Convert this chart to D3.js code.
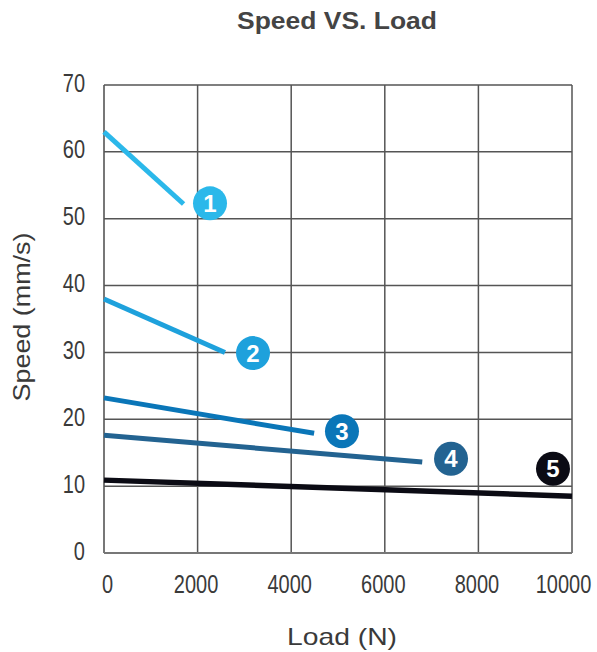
<!DOCTYPE html>
<html>
<head>
<meta charset="utf-8">
<script src="https://cdn.jsdelivr.net/npm/d3@7"></script>
<style>
  body { margin: 0; background: #fff; }
  .tick text { font-family: "Liberation Sans", Arial, sans-serif; font-size: 20px; fill: #3a3a3a; }
  .axis path { display: none; }
</style>
</head>
<body>
<svg id="chart"></svg>
<script>
// data
const xTicks = [0, 2000, 4000, 6000, 8000, 10000];
const yTicks = [0, 10, 20, 30, 40, 50, 60, 70];
const seriesIds = ["1", "2", "3", "4", "5"];
const seriesColors = ["#2bb8ea", "#1ea1dc", "#0a76b8", "#236391", "#0b0b14"];
const seriesLoads = [[0, 1700], [0, 2585], [0, 4490], [0, 6800], [0, 10000]];
const seriesSpeeds = [[63.0, 52.2], [38.0, 30.0], [23.2, 17.9], [17.6, 13.6], [10.9, 8.5]];
const markerLoads = [2265, 3184, 5085, 7415, 9594];
const markerSpeeds = [52.3, 29.9, 18.2, 14.1, 12.6];

const W = 597, H = 652;
const margin = { top: 85, right: 25, bottom: 99, left: 104 },
      width = W - margin.left - margin.right,
      height = H - margin.top - margin.bottom;

const svgRoot = d3.select("#chart").attr("width", W).attr("height", H);
const svg = svgRoot.append("g")
    .attr("transform", `translate(${margin.left}, ${margin.top})`);

const x = d3.scaleLinear().domain([0, 10000]).range([0, width]);
const y = d3.scaleLinear().domain([0, 70]).range([height, 0]);

// grid
const grid = svg.append("g").attr("class", "grid");
grid.selectAll(".vline").data(xTicks).enter().append("line")
    .attr("x1", d => x(d)).attr("x2", d => x(d))
    .attr("y1", 0).attr("y2", height)
    .attr("stroke", d => d === 0 ? "#777" : "#555")
    .attr("stroke-width", d => d === 0 ? 2 : 1.5);
grid.selectAll(".hline").data(yTicks).enter().append("line")
    .attr("x1", 0).attr("x2", width)
    .attr("y1", d => y(d)).attr("y2", d => y(d))
    .attr("stroke", d => d === 0 ? "#777" : "#555")
    .attr("stroke-width", d => d === 0 ? 2 : 1.5);

// axes (labels only); digits are stretched tall like the reference
const stretch = 1.3;
const xAxis = svg.append("g").attr("class", "axis")
    .attr("transform", `translate(0, ${height})`)
    .call(d3.axisBottom(x).tickValues(xTicks).tickSize(0).tickFormat(d3.format("d")));
xAxis.selectAll(".tick text")
    .attr("y", 0).attr("dy", 0)
    .attr("transform", d => `translate(${d === 10000 ? -9 : (d === 0 ? 3 : -2)}, 40) scale(1, ${stretch})`);

const yAxis = svg.append("g").attr("class", "axis")
    .call(d3.axisLeft(y).tickValues(yTicks).tickSize(0));
yAxis.selectAll(".tick text")
    .attr("x", 0).attr("dy", 0)
    .attr("transform", `translate(-19, 6) scale(1, ${stretch})`);

// series lines
const line = d3.line().x(d => x(d[0])).y(d => y(d[1]));
seriesIds.forEach((id, i) => {
    const pts = seriesLoads[i].map((l, j) => [l, seriesSpeeds[i][j]]);
    svg.append("path")
        .datum(pts)
        .attr("d", line)
        .attr("fill", "none")
        .attr("stroke", seriesColors[i])
        .attr("stroke-width", i === 4 ? 5.5 : 5);
});

// numbered markers
const markers = svg.selectAll(".marker").data(seriesIds).enter().append("g")
    .attr("class", "marker")
    .attr("transform", (d, i) => `translate(${x(markerLoads[i])}, ${y(markerSpeeds[i])})`);
markers.append("circle").attr("r", 17).attr("fill", (d, i) => seriesColors[i]);
markers.append("text")
    .attr("text-anchor", "middle")
    .attr("dy", "0.36em")
    .style("font-family", "Liberation Sans, Arial, sans-serif")
    .style("font-weight", "bold")
    .style("font-size", "24px")
    .attr("fill", "#fff")
    .text(d => d);

// titles
svgRoot.append("text")
    .attr("x", 337).attr("y", 29)
    .attr("text-anchor", "middle")
    .attr("textLength", 200).attr("lengthAdjust", "spacingAndGlyphs")
    .style("font-family", "Liberation Sans, Arial, sans-serif")
    .style("font-weight", "bold")
    .style("font-size", "23px")
    .attr("fill", "#444")
    .text("Speed VS. Load");

svgRoot.append("text")
    .attr("x", 342).attr("y", 645)
    .attr("text-anchor", "middle")
    .attr("textLength", 110).attr("lengthAdjust", "spacingAndGlyphs")
    .style("font-family", "Liberation Sans, Arial, sans-serif")
    .style("font-size", "24px")
    .attr("fill", "#3a3a3a")
    .text("Load (N)");

svgRoot.append("text")
    .attr("transform", "translate(30, 317) rotate(-90)")
    .attr("text-anchor", "middle")
    .attr("textLength", 169).attr("lengthAdjust", "spacingAndGlyphs")
    .style("font-family", "Liberation Sans, Arial, sans-serif")
    .style("font-size", "24px")
    .attr("fill", "#3a3a3a")
    .text("Speed (mm/s)");
</script>
</body>
</html>
